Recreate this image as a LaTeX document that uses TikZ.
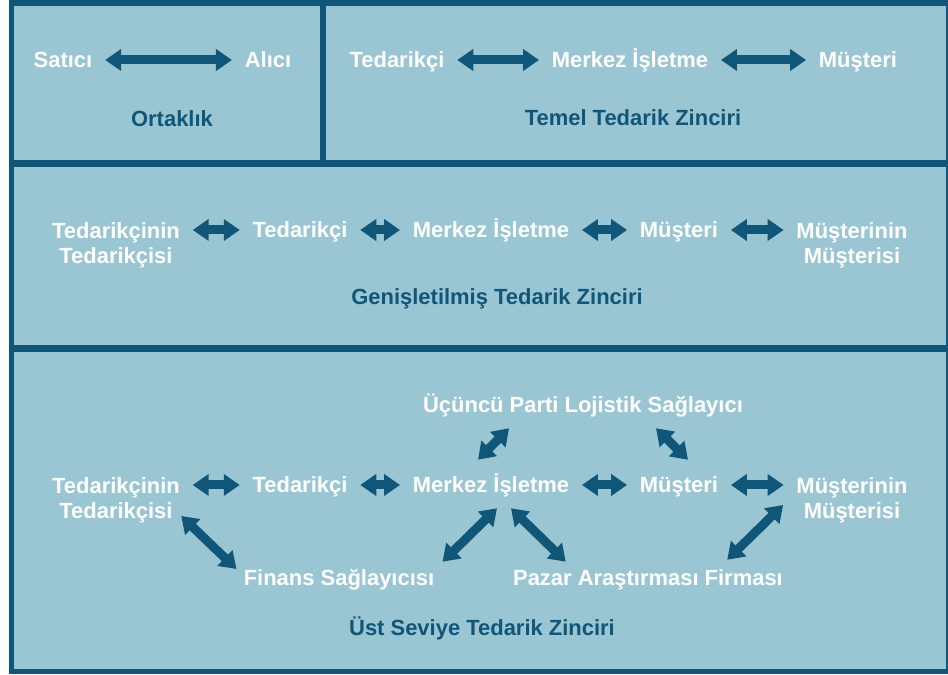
\documentclass[tikz,border=0pt]{standalone}
\usepackage{fontspec}
\setmainfont{Liberation Sans}
\usepackage{tikz}
\usetikzlibrary{arrows.meta}
\usetikzlibrary{calc}

\definecolor{frameblue}{RGB}{16,86,121}
\definecolor{panelblue}{RGB}{153,198,210}

\begin{document}
\begin{tikzpicture}[x=0.02cm, y=-0.02cm,
        lbl/.style={text=white, font=\bfseries\fontsize{12.5}{14.2}\selectfont, inner sep=0pt, text height=9pt, text depth=0pt},
        lbltwo/.style={text=white, font=\bfseries\fontsize{12.5}{14.2}\selectfont, inner sep=0pt, align=center, anchor=north},
        ttl/.style={lbl, text=frameblue},
        dbl/.style={frameblue, line width=0.18cm, {Triangle[length=0.32cm,width=0.42cm]}-{Triangle[length=0.32cm,width=0.42cm]}},
        hdbl/.style={dbl, shorten <=0.25cm, shorten >=0.25cm}]

        \useasboundingbox (0,0) rectangle (948,675);

        % frame and panels
        \fill[frameblue] (9,0) rectangle (948,674);
        \fill[panelblue] (14,6) rectangle (320,160);
        \fill[panelblue] (326,6) rectangle (946,160);
        \fill[panelblue] (14,167) rectangle (946,345);
        \fill[panelblue] (14,352) rectangle (946,669);

        % Ortaklik
        \node[lbl] (sat) at (63,60) {Satıcı};
        \node[lbl] (alc) at (268,60) {Alıcı};
        \node[ttl] (ort) at (172,119) {Ortaklık};
        \draw[hdbl] (sat) -- (alc);

        % Temel
        \node[lbl] (ted2) at (397,60) {Tedarikçi};
        \node[lbl] (mrk2) at (630,60) {Merkez İşletme};
        \node[lbl] (mus2) at (858,60) {Müşteri};
        \node[ttl] (tem) at (633,118) {Temel Tedarik Zinciri};
        \draw[hdbl] (ted2) -- (mrk2);
        \draw[hdbl] (mrk2) -- (mus2);

        % Genisletilmis
        \node[lbltwo] (tt3) at (116,222) {Tedarikçinin\\Tedarikçisi};
        \node[lbl] (ted3) at (300,230) {Tedarikçi};
        \node[lbl] (mrk3) at (491,230) {Merkez İşletme};
        \node[lbl] (mus3) at (679,230) {Müşteri};
        \node[lbltwo] (mm3) at (852,222) {Müşterinin\\Müşterisi};
        \node[ttl] (gen) at (497,297) {Genişletilmiş Tedarik Zinciri};
        \draw[hdbl] (tt3.east |- ted3) -- (ted3);
        \draw[hdbl] (ted3) -- (mrk3);
        \draw[hdbl] (mrk3) -- (mus3);
        \draw[hdbl] (mus3) -- (mm3.west |- mus3);

        % Ust seviye
        \node[lbl] (uc4) at (583,405) {Üçüncü Parti Lojistik Sağlayıcı};
        \node[lbltwo] (tt4) at (116,477) {Tedarikçinin\\Tedarikçisi};
        \node[lbl] (ted4) at (300,485) {Tedarikçi};
        \node[lbl] (mrk4) at (491,485) {Merkez İşletme};
        \node[lbl] (mus4) at (679,485) {Müşteri};
        \node[lbltwo] (mm4) at (852,477) {Müşterinin\\Müşterisi};
        \node[lbl] (fin4) at (339,578) {Finans Sağlayıcısı};
        \node[lbl] (paz4) at (648,578) {Pazar Araştırması Firması};
        \node[ttl] (ust) at (482,628) {Üst Seviye Tedarik Zinciri};
        \draw[hdbl] (tt4.east |- ted4) -- (ted4);
        \draw[hdbl] (ted4) -- (mrk4);
        \draw[hdbl] (mrk4) -- (mus4);
        \draw[hdbl] (mus4) -- (mm4.west |- mus4);

        \draw[dbl] ($(mrk4.north)+(-13,-17)$) -- ($(uc4.south)+(-74,15)$);
        \draw[dbl] ($(uc4.south)+(73,15)$) -- ($(mus4.north)+(9,-17)$);
        \draw[dbl] ($(tt4.north east)+(1,39)$) -- ($(fin4.west)+(-7,-9)$);
        \draw[dbl] ($(mrk4.south)+(6,15)$) -- ($(fin4.north east)+(8,-8)$);
        \draw[dbl] ($(mrk4.south)+(20,15)$) -- ($(paz4.north west)+(53,-8)$);
        \draw[dbl] ($(mm4.north west)+(-13,28)$) -- ($(paz4.north east)+(-56,-10)$);

    \end{tikzpicture}
\end{document}
